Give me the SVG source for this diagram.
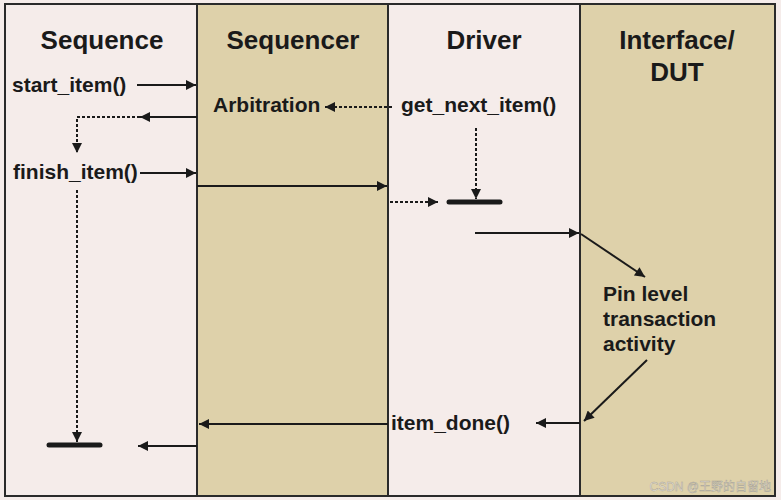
<svg xmlns="http://www.w3.org/2000/svg" width="781" height="500" viewBox="0 0 781 500">
<defs>
<style>
.pink{fill:#f5ecea}
.tan{fill:#ded1aa}
.hdr{font-family:"Liberation Sans",Arial,sans-serif;font-weight:bold;font-size:26px;fill:#1a1a1a;text-anchor:middle}
.lbl{font-family:"Liberation Sans",Arial,sans-serif;font-weight:bold;font-size:21px;fill:#1a1a1a}
.ln{stroke:#1a1a1a;stroke-width:2;fill:none}
.dash{stroke:#1a1a1a;stroke-width:2;fill:none;stroke-dasharray:3 2}
.bar{stroke:#1a1a1a;stroke-width:5;stroke-linecap:round}
.wm{font-family:"Liberation Sans","Noto Sans CJK SC",sans-serif;font-size:12px;fill:#f4f0e6;stroke:#a9a394;stroke-width:0.5;text-anchor:end}
</style>
<marker id="ah" viewBox="0 0 10 10" refX="10" refY="5" markerWidth="17" markerHeight="10" markerUnits="userSpaceOnUse" orient="auto">
<path d="M0,0 L10,5 L0,10 z" fill="#1a1a1a"/>
</marker>
</defs>
<rect x="0" y="0" width="781" height="500" class="pink"/>
<g id="col-sequence"><rect x="5" y="4" width="192" height="492" class="pink"/><text class="hdr" x="102" y="49">Sequence</text></g>
<g id="col-sequencer"><rect x="197" y="4" width="191" height="492" class="tan"/><text class="hdr" x="293" y="49">Sequencer</text></g>
<g id="col-driver"><rect x="388" y="4" width="192" height="492" class="pink"/><text class="hdr" x="484" y="49">Driver</text></g>
<g id="col-dut"><rect x="580" y="4" width="195" height="492" class="tan"/><text class="hdr" x="677" y="49">Interface/</text><text class="hdr" x="677" y="81">DUT</text></g>
<g id="frame" fill="none" stroke="#2a2a2a" stroke-width="2">
<rect x="5" y="4" width="770" height="492"/>
<line x1="197" y1="4" x2="197" y2="496"/>
<line x1="388" y1="4" x2="388" y2="496"/>
<line x1="580" y1="4" x2="580" y2="496"/>
</g>
<g id="labels">
<text class="lbl" x="12" y="92">start_item()</text>
<text class="lbl" x="213" y="112">Arbitration</text>
<text class="lbl" x="401" y="112">get_next_item()</text>
<text class="lbl" x="13" y="179">finish_item()</text>
<text class="lbl" x="603" y="301">Pin level</text>
<text class="lbl" x="603" y="326">transaction</text>
<text class="lbl" x="603" y="351">activity</text>
<text class="lbl" x="391" y="430">item_done()</text>
</g>
<g id="connectors">
<line class="ln" x1="137" y1="85" x2="196" y2="85" marker-end="url(#ah)"/>
<line class="dash" x1="392" y1="107" x2="325" y2="107" marker-end="url(#ah)"/>
<line class="ln" x1="197" y1="117" x2="140" y2="117" marker-end="url(#ah)"/>
<polyline class="dash" points="140,117 77,117 77,153" marker-end="url(#ah)"/>
<line class="ln" x1="140" y1="173" x2="196" y2="173" marker-end="url(#ah)"/>
<line class="ln" x1="197" y1="186" x2="387" y2="186" marker-end="url(#ah)"/>
<line class="dash" x1="476" y1="128" x2="476" y2="199" marker-end="url(#ah)"/>
<line class="dash" x1="390" y1="202" x2="438" y2="202" marker-end="url(#ah)"/>
<line class="bar" x1="449" y1="202" x2="500" y2="202"/>
<line class="ln" x1="475" y1="233" x2="579" y2="233" marker-end="url(#ah)"/>
<line class="ln" x1="581" y1="234" x2="645" y2="277" marker-end="url(#ah)"/>
<line class="ln" x1="647" y1="360" x2="584" y2="421" marker-end="url(#ah)"/>
<line class="ln" x1="580" y1="423" x2="536" y2="423" marker-end="url(#ah)"/>
<line class="ln" x1="388" y1="424" x2="199" y2="424" marker-end="url(#ah)"/>
<line class="ln" x1="197" y1="446" x2="138" y2="446" marker-end="url(#ah)"/>
<line class="dash" x1="77" y1="190" x2="77" y2="442" marker-end="url(#ah)"/>
<line class="bar" x1="49" y1="445" x2="100" y2="445"/>
</g>
<text class="wm" x="771" y="491">CSDN @王野的自留地</text>
</svg>
